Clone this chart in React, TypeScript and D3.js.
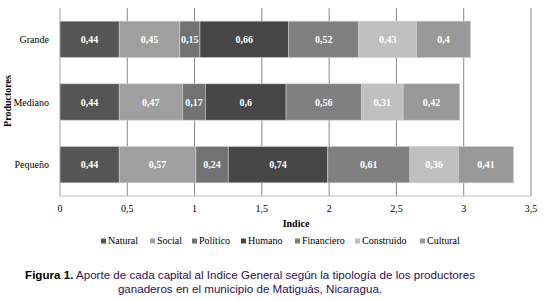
import React from "react";
import * as d3 from "d3";

const categories = ["Grande", "Mediano", "Pequeño"];
const seriesNames = ["Natural", "Social", "Político", "Humano", "Financiero", "Construido", "Cultural"];
const natural = [0.44, 0.44, 0.44];
const social = [0.45, 0.47, 0.57];
const politico = [0.15, 0.17, 0.24];
const humano = [0.66, 0.6, 0.74];
const financiero = [0.52, 0.56, 0.61];
const construido = [0.43, 0.31, 0.36];
const cultural = [0.4, 0.42, 0.41];
const xTicks = [0, 0.5, 1, 1.5, 2, 2.5, 3, 3.5];
const colors = ["#555555", "#9f9f9f", "#727272", "#464646", "#808080", "#c0c0c0", "#999999"];

const seriesValues = [natural, social, politico, humano, financiero, construido, cultural];

const W = 546;
const H = 301;

const fmt = (v: number) => String(v).replace(".", ",");

export default function App() {
  const x = d3.scaleLinear().domain([0, 3.5]).range([60, 531]);
  const y = d3.scaleBand().domain(categories).range([8, 196]).paddingInner(0.42).paddingOuter(0.21);

  const rows = categories.map((c, i) => {
    const obj: any = { cat: c };
    seriesNames.forEach((s, j) => (obj[s] = seriesValues[j][i]));
    return obj;
  });
  const stack = d3.stack<any>().keys(seriesNames)(rows);

  const legendX = [101, 150, 192, 241, 295, 355, 420];
  const serif = { fontFamily: "Liberation Serif, Times New Roman, DejaVu Serif, serif" };
  const sans = { fontFamily: "Liberation Sans, Arial, sans-serif" };

  return (
    <svg width={W} height={H} style={{ position: "absolute", left: 0, top: 0, background: "#fff" }}>
      <rect x={0} y={0} width={W} height={H} fill="#fff" />
      {xTicks.map((t) =>
        t === 0 ? null : (
          <line key={t} x1={x(t)} x2={x(t)} y1={8} y2={196} stroke="#868686" strokeWidth={1} />
        )
      )}
      <line x1={x(0)} x2={x(0)} y1={8} y2={196} stroke="#bfbfbf" strokeWidth={1.5} />
      <line x1={x(0)} x2={x(3.5)} y1={196} y2={196} stroke="#bfbfbf" strokeWidth={1} />
      {stack.map((layer, j) =>
        layer.map((d, i) => {
          const x0 = x(d[0]);
          const x1 = x(d[1]);
          const yy = y(categories[i])!;
          return (
            <g key={`${j}-${i}`}>
              <rect x={x0} y={yy} width={x1 - x0} height={y.bandwidth()} fill={colors[j]} stroke="#d0d0d0" strokeWidth={0.6} />
              <text
                x={(x0 + x1) / 2}
                y={yy + y.bandwidth() / 2}
                dy="0.35em"
                textAnchor="middle"
                fill="#fff"
                style={serif}
                fontWeight="bold"
                fontSize={10}
              >
                {fmt(seriesValues[j][i])}
              </text>
            </g>
          );
        })
      )}
      {categories.map((c) => (
        <text key={c} x={49} y={y(c)! + y.bandwidth() / 2} dy="0.35em" textAnchor="end" style={serif} fontSize={10} fill="#000">
          {c}
        </text>
      ))}
      {xTicks.map((t) => (
        <text key={t} x={x(t)} y={212} textAnchor="middle" style={serif} fontSize={10} fill="#000">
          {fmt(t)}
        </text>
      ))}
      <text x={296} y={227} textAnchor="middle" style={serif} fontSize={10} fontWeight="bold" fill="#000">
        Indice
      </text>
      <text
        transform="translate(11,101) rotate(-90)"
        textAnchor="middle"
        style={serif}
        fontSize={10}
        fontWeight="bold"
        fill="#000"
      >
        Productores
      </text>
      {seriesNames.map((s, j) => (
        <g key={s}>
          <rect x={legendX[j]} y={238.5} width={5} height={5} fill={colors[j]} />
          <text x={legendX[j] + 7} y={244} style={serif} fontSize={10} fill="#000">
            {s}
          </text>
        </g>
      ))}
      <text x={250} y={279} textAnchor="middle" style={sans} fontSize={11.6} fill="#2b0f55">
        <tspan fontWeight="bold" fill="#000">Figura 1.</tspan>
        <tspan> Aporte de cada capital al Indice General según la tipología de los productores</tspan>
      </text>
      <text x={250} y={293} textAnchor="middle" style={sans} fontSize={11.6} fill="#2b0f55">
        ganaderos en el municipio de Matiguás, Nicaragua.
      </text>
    </svg>
  );
}
